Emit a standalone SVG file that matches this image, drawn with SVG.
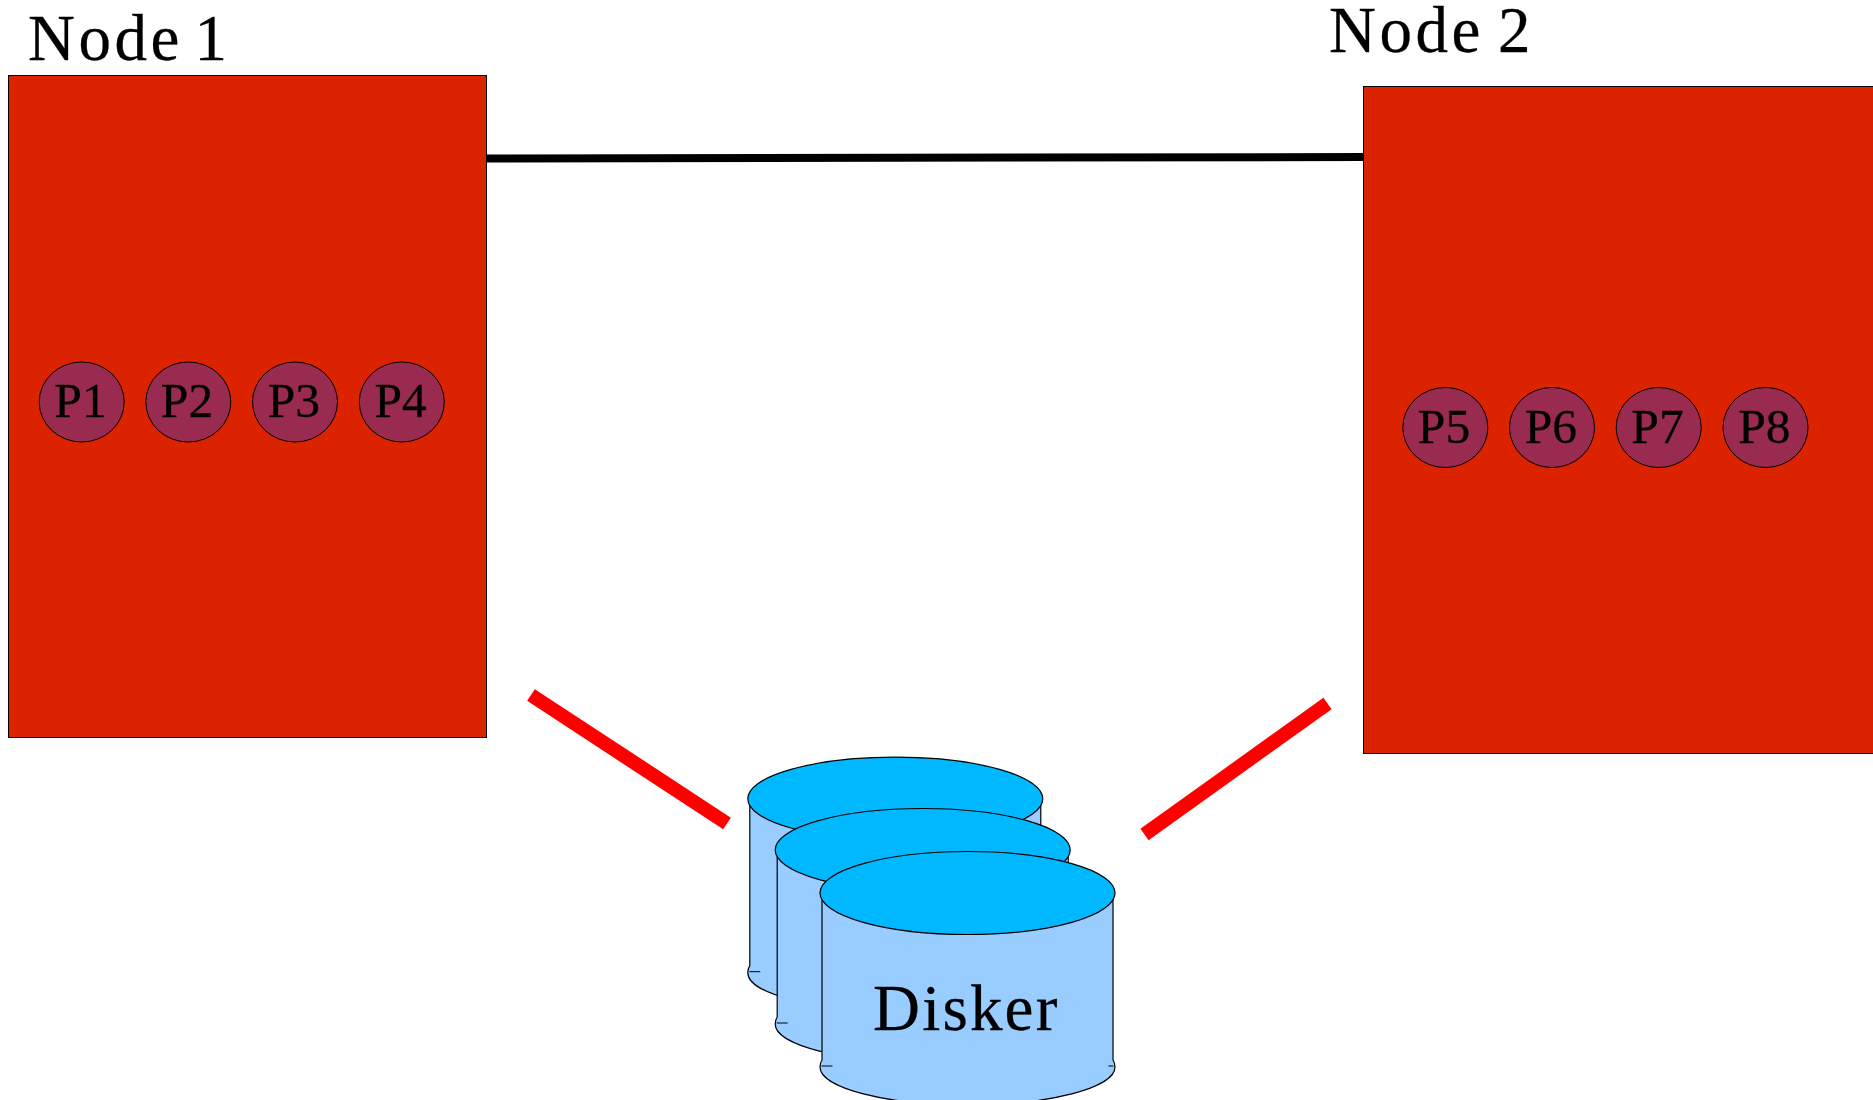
<svg xmlns="http://www.w3.org/2000/svg" width="1873" height="1100" viewBox="0 0 1873 1100">
<style>
text{font-family:"Liberation Serif","Times New Roman",serif;fill:#000;stroke:#000;stroke-width:.3}
.big{font-size:65px;letter-spacing:2.2px}
.node{letter-spacing:3.500px}
.p{font-size:49.500px;text-anchor:middle}
.box{fill:#dc2300;stroke:#000;stroke-width:1}
.c{fill:#992b50;stroke:#000;stroke-width:1}
.body{fill:#99ccff;stroke:#000;stroke-width:1.200}
.top{fill:#00b8ff;stroke:#000;stroke-width:1.200}
.tick{fill:none;stroke:#000;stroke-width:1}
</style>
<defs>
<g id="cyl">
<path class="body" d="M-145.500 0V167Q-147.500 170 -147.500 174C-147.500 195 -81 212 0 212S147.500 195 147.500 174Q147.500 170 145.500 167V0Z"/>
<path class="tick" d="M-146 173H-135M146 173H141"/>
<ellipse class="top" cx="0" cy="0" rx="147.500" ry="41.500"/>
</g>
</defs>
<g id="connectors">
<line x1="487" y1="158.500" x2="1363" y2="157" stroke="#000" stroke-width="8"/>
<line x1="531" y1="695" x2="727" y2="823.500" stroke="#ff0000" stroke-width="14"/>
<line x1="1327.500" y1="703.500" x2="1144.500" y2="834.500" stroke="#ff0000" stroke-width="14"/>
</g>
<g id="node1">
<rect class="box" x="8.500" y="75.500" width="478" height="662"/>
<text class="big node" x="28" y="59.500" word-spacing="-8">Node 1</text>
</g>
<g id="node2">
<rect class="box" x="1363.500" y="86.500" width="520" height="667"/>
<text class="big node" x="1329" y="52" word-spacing="-5.500">Node 2</text>
</g>
<g id="p1"><ellipse class="c" cx="81.700" cy="402" rx="42.500" ry="40"/><text class="p" x="80.500" y="417">P1</text></g>
<g id="p2"><ellipse class="c" cx="188.300" cy="402" rx="42.500" ry="40"/><text class="p" x="187" y="417">P2</text></g>
<g id="p3"><ellipse class="c" cx="295" cy="402" rx="42.500" ry="40"/><text class="p" x="293.800" y="417">P3</text></g>
<g id="p4"><ellipse class="c" cx="401.800" cy="402" rx="42.500" ry="40"/><text class="p" x="400.600" y="417">P4</text></g>
<g id="p5"><ellipse class="c" cx="1445.300" cy="427.500" rx="42.500" ry="40"/><text class="p" x="1444" y="442.500">P5</text></g>
<g id="p6"><ellipse class="c" cx="1552" cy="427.500" rx="42.500" ry="40"/><text class="p" x="1550.800" y="442.500">P6</text></g>
<g id="p7"><ellipse class="c" cx="1658.700" cy="427.500" rx="42.500" ry="40"/><text class="p" x="1657.500" y="442.500">P7</text></g>
<g id="p8"><ellipse class="c" cx="1765.500" cy="427.500" rx="42.500" ry="40"/><text class="p" x="1764.300" y="442.500">P8</text></g>
<g id="disk-back"><use href="#cyl" x="895.300" y="798.700"/></g>
<g id="disk-middle"><use href="#cyl" x="922.700" y="850"/></g>
<g id="disk-front"><use href="#cyl" x="967.500" y="893"/><text class="big" x="873" y="1030">Disker</text></g>
</svg>
